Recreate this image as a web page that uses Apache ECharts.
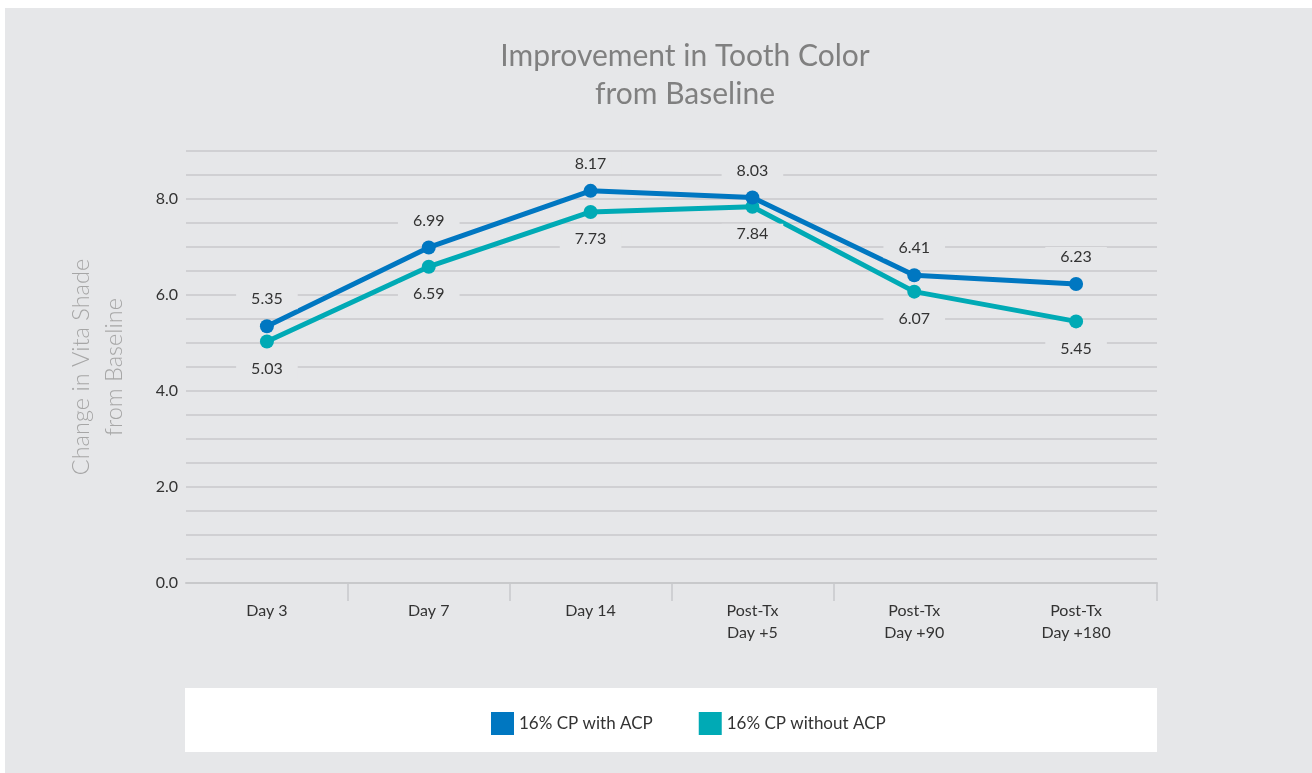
<!DOCTYPE html>
<html>
<head>
<meta charset="utf-8">
<script src="https://cdn.jsdelivr.net/npm/echarts@6/dist/echarts.min.js"></script>
<style>
  html, body { margin: 0; padding: 0; background: #ffffff; }
  #chart { width: 1312px; height: 773px; }
</style>
</head>
<body>
<div id="chart"></div>
<script>
const categories = ["Day 3", "Day 7", "Day 14", "Post-Tx\nDay +5", "Post-Tx\nDay +90", "Post-Tx\nDay +180"];
const withAcp = [5.35, 6.99, 8.17, 8.03, 6.41, 6.23];
const withoutAcp = [5.03, 6.59, 7.73, 7.84, 6.07, 5.45];
const seriesNames = ["16% CP with ACP", "16% CP without ACP"];

const bg = "#e6e7e9";
const gridColor = "#c8c9cb";
const font = "Lato, 'Open Sans', sans-serif";

const chart = echarts.init(document.getElementById("chart"));

function lineSeries(name, data, color, pos) {
  return {
    name: name,
    type: "line",
    data: data,
    symbol: "circle",
    symbolSize: 14,
    lineStyle: { color: color, width: 5 },
    itemStyle: { color: color },
    label: {
      show: true,
      position: pos,
      distance: 10,
      color: "#333333",
      fontFamily: font,
      fontSize: 16,
      backgroundColor: bg,
      padding: [2, 15],
      formatter: (p) => p.value.toFixed(2)
    }
  };
}

const option = {
  backgroundColor: "#ffffff",
  animation: false,
  graphic: [
    { type: "rect", z: -10, shape: { x: 5, y: 8, width: 1307, height: 765 }, style: { fill: bg } },
    { type: "rect", z: -9, shape: { x: 185, y: 688, width: 972, height: 64 }, style: { fill: "#ffffff" } }
  ],
  title: {
    text: "Improvement in Tooth Color\nfrom Baseline",
    left: 680,
    top: 32,
    textAlign: "center",
    textStyle: {
      fontFamily: font,
      fontSize: 30,
      fontWeight: "normal",
      color: "#808080",
      lineHeight: 38
    }
  },
  legend: {
    data: seriesNames,
    left: 486,
    top: 707,
    icon: "rect",
    itemWidth: 23,
    itemHeight: 23,
    itemGap: 46,
    textStyle: { fontFamily: font, fontSize: 17, color: "#333333" }
  },
  grid: { left: 186, right: 155, top: 151, bottom: 190 },
  xAxis: {
    type: "category",
    data: categories,
    boundaryGap: true,
    axisLine: { lineStyle: { color: gridColor, width: 2 } },
    axisTick: {
      show: true,
      length: 18,
      customValues: [1, 2, 3, 4],
      lineStyle: { color: gridColor, width: 1.5 }
    },
    axisLabel: {
      color: "#333333",
      fontFamily: font,
      fontSize: 16,
      lineHeight: 22,
      margin: 17
    },
    splitLine: { show: false }
  },
  yAxis: {
    type: "value",
    min: 0,
    max: 9,
    interval: 0.5,
    name: "Change in Vita Shade\nfrom Baseline",
    nameLocation: "middle",
    nameGap: 55,
    nameTextStyle: {
      fontFamily: font,
      fontSize: 23.5,
      fontWeight: 300,
      color: "#a6a6a6",
      lineHeight: 33
    },
    axisLine: { show: false },
    axisTick: { show: false },
    axisLabel: {
      color: "#333333",
      fontFamily: font,
      fontSize: 16,
      margin: 8,
      formatter: (v) => (Math.abs(v % 2) < 1e-9 && v <= 8 ? v.toFixed(1) : "")
    },
    splitLine: { lineStyle: { color: gridColor, width: 1.5 } }
  },
  series: [
    lineSeries(seriesNames[1], withoutAcp, "#00aab5", "bottom"),
    lineSeries(seriesNames[0], withAcp, "#0077c1", "top")
  ]
};

chart.setOption(option);
</script>
</body>
</html>
